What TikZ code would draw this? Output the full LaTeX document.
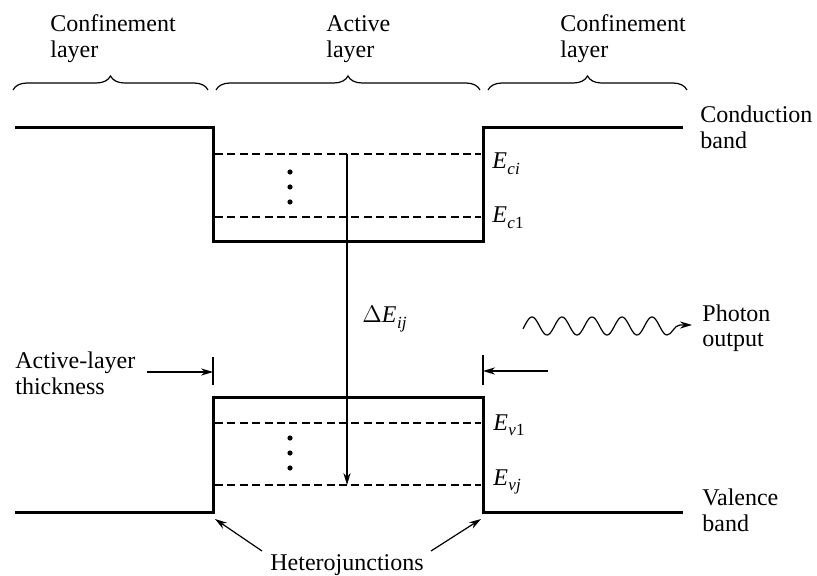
\documentclass[tikz,border=0pt]{standalone}
\usepackage{fontspec}
\setmainfont{Liberation Serif}
\usetikzlibrary{arrows.meta,decorations.pathreplacing}
\newcommand{\Elab}[1]{\textit{E}\kern0.2pt\raisebox{-2.6pt}{\fontsize{8.5}{9}\selectfont #1}}
\begin{document}
\begin{tikzpicture}[x=0.5pt,y=-0.5pt,
  band/.style={line width=1.5pt, line join=miter},
  elevel/.style={dash pattern=on 4pt off 2.2pt, line width=0.6pt},
  hair/.style={line width=0.6pt},
  lbl/.style={inner sep=0pt, anchor=base west, align=left, font=\fontsize{12}{13}\selectfont},
  brc/.style={hair, decorate, decoration={brace, amplitude=7pt}},
  arr/.style={hair, -{Stealth[length=6pt,width=3.6pt]}},
  lvldot/.style={circle, fill, inner sep=0pt, minimum size=2.6pt}
]
\useasboundingbox (0,0) rectangle (817,576);

% top labels and braces (base anchor = baseline of the last line)
\node[lbl] (cl1) at (50,58) {Confinement\\layer};
\node[lbl] (al) at (326,58) {Active\\layer};
\node[lbl] (cl2) at (560,58) {Confinement\\layer};
\draw[brc] (13,90) -- (208,90);
\draw[brc] (216,90) -- (480,90);
\draw[brc] (488,90) -- (687,90);

% conduction band
\draw[band] (15,128) -- (213,128) -- (213,242) -- (483,242) -- (483,128) -- (683,128);
\node[lbl] (cb) at (700,149) {Conduction\\band};
\draw[elevel] (215,154) -- (481,154);
\draw[elevel] (215,217) -- (481,217);
\node[lbl] (eci) at (492,169) {\Elab{\textit{ci}}};
\node[lbl] (ec1) at (492,223) {\Elab{\textit{c}1}};
\node[lvldot] (d1) at (290,172) {};
\node[lvldot] (d2) at (290,187) {};
\node[lvldot] (d3) at (290,202) {};

% valence band
\draw[band] (15,512) -- (213,512) -- (213,397) -- (483,397) -- (483,512) -- (683,512);
\node[lbl] (vb) at (702,531) {Valence\\band};
\draw[elevel] (215,423) -- (481,423);
\draw[elevel] (215,485) -- (481,485);
\node[lbl] (ev1) at (493,430) {\Elab{\textit{v}1}};
\node[lbl] (evj) at (493,485) {\Elab{\textit{vj}}};
\node[lvldot] (d4) at (290,438) {};
\node[lvldot] (d5) at (290,453) {};
\node[lvldot] (d6) at (290,468) {};

% transition arrow
\coordinate (top) at (347,154);
\coordinate (bot) at (347,485);
\draw[arr] (top) -- (bot);
\node[lbl] (de) at (362,323) {$\Delta$\Elab{\textit{ij}}};

% photon
\node[lbl] (ph) at (702,347) {Photon\\output};
\coordinate (phend) at (692,325);
\draw[hair] plot[domain=523:667, samples=120, smooth] (\x,{326-9*sin(12*(\x-524.5))});
\coordinate (wv) at (667,335);
\draw[arr] (wv) .. controls (672,335) and (674,325) .. (680,325) -- (phend);

% active-layer thickness
\node[lbl] (alt) at (15,394) {Active-layer\\thickness};
\coordinate (tl) at (213,372);
\coordinate (tr) at (483,371);
\coordinate (al0) at (147,372);
\coordinate (ar0) at (548,371);
\draw[hair] (213,357) -- (213,385);
\draw[hair] (483,355) -- (483,385);
\draw[arr] (al0) -- (tl);
\draw[arr] (ar0) -- (tr);

% heterojunctions
\node[lbl] (het) at (270,570) {Heterojunctions};
\coordinate (hl0) at (262,551);
\coordinate (hl1) at (215,519);
\coordinate (hr0) at (431,551);
\coordinate (hr1) at (481,519);
\draw[arr] (hl0) -- (hl1);
\draw[arr] (hr0) -- (hr1);
\end{tikzpicture}
\end{document}
